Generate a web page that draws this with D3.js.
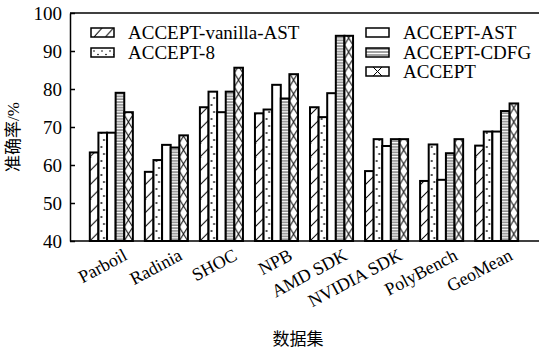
<!DOCTYPE html>
<html>
<head>
<meta charset="utf-8">
<script src="https://cdn.jsdelivr.net/npm/d3@7"></script>
<style>
  body { margin: 0; background: #fff; }
  text { font-family: "Liberation Serif", "Times New Roman", "Noto Sans CJK SC", serif; fill: #000; }
</style>
</head>
<body>
<div id="chart"></div>
<script>
// données
const categories = ["Parboil", "Radinia", "SHOC", "NPB", "AMD SDK", "NVIDIA SDK", "PolyBench", "GeoMean"];
const series = ["ACCEPT-vanilla-AST", "ACCEPT-8", "ACCEPT-AST", "ACCEPT-CDFG", "ACCEPT"];
const vanillaAST = [63.3, 58.2, 75.2, 73.6, 75.2, 58.4, 55.8, 65.1];
const accept8    = [68.5, 61.3, 79.3, 74.6, 72.6, 66.8, 65.4, 68.8];
const acceptAST  = [68.5, 65.3, 73.9, 81.1, 78.9, 65.0, 56.1, 68.8];
const acceptCDFG = [79.0, 64.6, 79.3, 77.5, 94.0, 66.8, 63.1, 74.2];
const accept     = [73.9, 67.8, 85.6, 83.9, 94.0, 66.8, 66.8, 76.2];
const yTicks = [40, 50, 60, 70, 80, 90, 100];

const values = [vanillaAST, accept8, acceptAST, acceptCDFG, accept];
const fills = ["hatch", "dots", "none", "hlines", "cross"];

const W = 539, H = 352;
const margin = { top: 13, right: 1, bottom: 111, left: 70 };

const svg = d3.select("#chart").append("svg")
  .attr("width", W).attr("height", H);

const x0 = d3.scaleBand().domain(categories)
  .range([margin.left, W - margin.right])
  .paddingInner(0.218).paddingOuter(0.36);
const x1 = d3.scaleBand().domain(series).range([0, x0.bandwidth()]);
const y = d3.scaleLinear().domain([40, 100]).range([H - margin.bottom, margin.top]);

const defs = svg.append("defs");
const bw = x1.bandwidth();
const ph = 14;

// motifs de remplissage
function drawMotif(p, type, w, h) {
  p.append("rect").attr("width", p.attr("width")).attr("height", h).attr("fill", "#fff");
  if (type == "hatch") {
    p.append("line").attr("x1", 0).attr("y1", h).attr("x2", w).attr("y2", h - w)
      .attr("stroke", "#000").attr("stroke-width", 1);
  } else if (type == "dots") {
    p.append("circle").attr("cx", w * 0.35).attr("cy", 4).attr("r", 0.9).attr("fill", "#000");
    p.append("circle").attr("cx", w * 0.65).attr("cy", 11).attr("r", 0.9).attr("fill", "#000");
  } else if (type == "hlines") {
    p.append("line").attr("x1", 0).attr("y1", 1).attr("x2", w).attr("y2", 1)
      .attr("stroke", "#444").attr("stroke-width", 1);
  } else if (type == "cross") {
    p.append("line").attr("x1", 0).attr("y1", 0).attr("x2", w).attr("y2", h)
      .attr("stroke", "#000").attr("stroke-width", 1);
    p.append("line").attr("x1", w).attr("y1", 0).attr("x2", 0).attr("y2", h)
      .attr("stroke", "#000").attr("stroke-width", 1);
  }
}

// les barres sont dans un groupe translaté : le motif suit le repère local
series.forEach((s, i) => {
  const t = fills[i];
  if (t == "none") return;
  const h = t == "hlines" ? 2.8 : ph;
  const p = defs.append("pattern")
    .attr("id", "pat" + i)
    .attr("patternUnits", "userSpaceOnUse")
    .attr("x", x1(s))
    .attr("y", y(40))
    .attr("width", x0.step())
    .attr("height", h);
  drawMotif(p, t, bw, h);
});

// barres
const groups = svg.append("g").selectAll("g")
  .data(categories)
  .join("g")
  .attr("transform", d => `translate(${x0(d)},0)`);

groups.selectAll("rect")
  .data((d, ci) => series.map((s, si) => ({ s, si, v: values[si][ci] })))
  .join("rect")
  .attr("x", d => x1(d.s))
  .attr("y", d => y(d.v))
  .attr("width", bw)
  .attr("height", d => y(40) - y(d.v))
  .attr("fill", d => fills[d.si] == "none" ? "#fff" : `url(#pat${d.si})`)
  .attr("stroke", "#000")
  .attr("stroke-width", 2);

// axes
const yAxis = d3.axisLeft(y).tickValues(yTicks)
  .tickSizeInner(-5).tickSizeOuter(0).tickPadding(8);
const gy = svg.append("g")
  .attr("transform", `translate(${margin.left},0)`)
  .call(yAxis);
gy.select(".domain").attr("stroke-width", 1.5);
gy.selectAll(".tick line").attr("stroke-width", 1.5);
gy.selectAll(".tick text").style("font-size", "19px").attr("dy", "0.34em");

svg.append("line")
  .attr("x1", margin.left).attr("x2", W)
  .attr("y1", y(40)).attr("y2", y(40))
  .attr("stroke", "#000").attr("stroke-width", 1.5);
svg.append("line")
  .attr("x1", margin.left).attr("x2", W)
  .attr("y1", y(100)).attr("y2", y(100))
  .attr("stroke", "#000").attr("stroke-width", 1.5);

svg.append("g").selectAll("text")
  .data(categories)
  .join("text")
  .attr("text-anchor", "end")
  .attr("transform", d => `translate(${x0(d) + x0.bandwidth() / 2 + 17},${y(40) + 18}) rotate(-28)`)
  .style("font-size", "18px")
  .text(d => d);

// titres des axes
svg.append("text")
  .attr("text-anchor", "middle")
  .attr("x", 298).attr("y", 345)
  .style("font-size", "17px")
  .text("数据集");

svg.append("text")
  .attr("text-anchor", "middle")
  .attr("transform", "translate(19,137) rotate(-90)")
  .style("font-size", "17px")
  .text("准确率/%");

// légende
const legendPos = [
  { x: 91, y: 28 }, { x: 91, y: 48 },
  { x: 366, y: 28 }, { x: 366, y: 48 }, { x: 366, y: 67 }
];
const legendOrder = [0, 1, 2, 3, 4];
const sw = 23, sh = 9;

legendOrder.forEach((si, k) => {
  const pos = legendPos[k];
  const t = fills[si];
  let fill = "#fff";
  if (t != "none") {
    const h = t == "hlines" ? 3 : sh;
    const w = t == "cross" ? sw : (t == "hatch" ? 11.5 : 8);
    const p = defs.append("pattern")
      .attr("id", "leg" + si)
      .attr("patternUnits", "userSpaceOnUse")
      .attr("x", pos.x + (t == "hatch" ? 3 : 0)).attr("y", pos.y)
      .attr("width", w).attr("height", h);
    if (t == "cross") {
      p.append("rect").attr("width", w).attr("height", h).attr("fill", "#fff");
      p.append("line").attr("x1", 7).attr("y1", 0).attr("x2", 16).attr("y2", h).attr("stroke", "#000");
      p.append("line").attr("x1", 16).attr("y1", 0).attr("x2", 7).attr("y2", h).attr("stroke", "#000");
    } else if (t == "dots") {
      p.append("rect").attr("width", w).attr("height", h).attr("fill", "#fff");
      p.append("circle").attr("cx", 3).attr("cy", 3).attr("r", 0.8).attr("fill", "#000");
      p.append("circle").attr("cx", 7).attr("cy", 6.5).attr("r", 0.8).attr("fill", "#000");
    } else if (t == "hatch") {
      p.append("rect").attr("width", w).attr("height", h).attr("fill", "#fff");
      p.append("line").attr("x1", 0).attr("y1", h).attr("x2", 8).attr("y2", 0).attr("stroke", "#000");
    } else {
      drawMotif(p, t, w, h);
    }
    fill = `url(#leg${si})`;
  }
  svg.append("rect")
    .attr("x", pos.x).attr("y", pos.y)
    .attr("width", sw).attr("height", sh)
    .attr("fill", fill)
    .attr("stroke", "#000").attr("stroke-width", 1.5);
  svg.append("text")
    .attr("x", pos.x + 37).attr("y", pos.y + sh / 2)
    .attr("dy", "0.35em")
    .style("font-size", "19px")
    .text(series[si]);
});
</script>
</body>
</html>
